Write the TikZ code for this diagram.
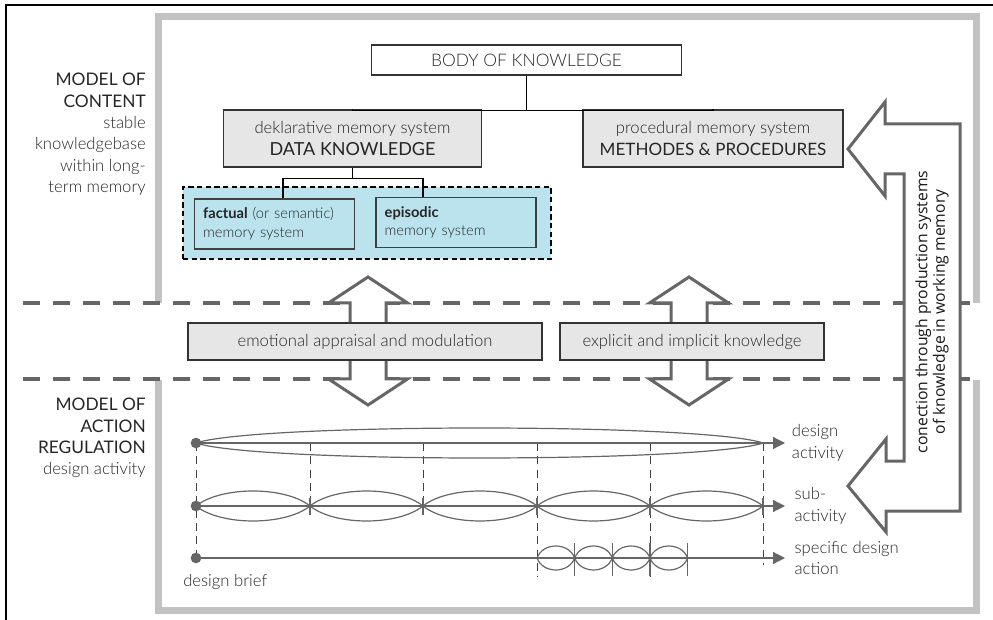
\documentclass[tikz,border=0pt]{standalone}
\usepackage{fontspec}
\setmainfont{Lato}
\newfontfamily\lightfont{Lato Light}
\newfontfamily\rotfont{Open Sans}
\usetikzlibrary{positioning, calc, arrows.meta}

\definecolor{boxgray}{HTML}{E6E6E6}
\definecolor{framegray}{HTML}{C2C2C2}
\definecolor{linegray}{HTML}{666666}
\definecolor{memblue}{HTML}{BAE3EE}
\definecolor{txtgray}{HTML}{262626}

\begin{document}
\begin{tikzpicture}[
    x=0.75pt, y=-0.75pt,
    % Define the style for the boxes
    block/.style={
        rectangle,
        draw=black!80,
        fill=boxgray,
        line width=0.8pt,
        align=center,
        inner sep=0pt,
        text=txtgray,
        font=\lightfont\fontsize{12.5}{16}\selectfont
    },
    memblock/.style={
        rectangle,
        draw=black!75,
        fill=memblue,
        line width=0.8pt,
        align=left,
        inner xsep=6.5pt,
        inner ysep=0pt,
        text width=107pt,
        minimum height=37.5pt,
        text=txtgray,
        font=\lightfont\fontsize{11}{14}\selectfont
    },
    group/.style={
        rectangle,
        draw=black,
        fill=memblue,
        line width=1.3pt,
        dash pattern=on 4pt off 2.5pt,
        minimum width=276pt,
        minimum height=54pt
    },
    % Define the style for the lines
    conn/.style={draw=black, line width=1.1pt},
    sep/.style={draw=linegray, line width=3pt, dash pattern=on 12.5pt off 10pt},
    frame/.style={draw=framegray, line width=5.25pt},
    bigarrow/.style={draw=linegray, line width=2.25pt, fill=white, line join=miter},
    tl/.style={draw=linegray, line width=0.9pt},
    guide/.style={draw=black!75, line width=0.6pt, dash pattern=on 6pt off 4pt},
    dot/.style={circle, fill=linegray, inner sep=0pt, minimum size=8pt},
    tip/.style={-{Triangle[length=9pt, width=9pt]}},
    % Define the style for the labels
    lbl/.style={align=left, inner sep=0pt, text=txtgray, font=\lightfont\fontsize{12.5}{16}\selectfont},
    side/.style={align=right, inner sep=0pt, text=txtgray, font=\lightfont\fontsize{12.5}{16}\selectfont}
]
    \useasboundingbox (0,0) rectangle (993,620);

    % Outer frame
    \draw[line width=1.5pt] (993,5) -- (6,5) -- (6,620);
    \draw[frame] (158.5,303) -- (158.5,16.5) -- (976.5,16.5) -- (976.5,303);
    \draw[frame] (158.5,380) -- (158.5,610.5) -- (976.5,610.5) -- (976.5,380);

    % Separators
    \draw[sep] (23,303) -- (973,303);
    \draw[sep] (23,379) -- (973,379);

    % Connection arrow on the right
    \draw[bigarrow] (848,149) -- (885,102) -- (885,124) -- (960,124) -- (960,511)
        -- (886,511) -- (886,532) -- (848,486) -- (886,439) -- (886,461)
        -- (904,461) -- (904,174) -- (885,174) -- (885,196) -- cycle;
    \node[rotate=90, align=center, text=black!90, font=\rotfont\fontsize{11.8}{13}\selectfont]
        (conection) at (932,312) {conection through production systems\\of knowledge in working memory};

    % Up and down arrows
    \foreach \cx in {368,689} {
        \draw[bigarrow] (\cx,277) -- (\cx+39.5,303) -- (\cx+18,303) -- (\cx+18,379)
            -- (\cx+39.5,379) -- (\cx,405) -- (\cx-39.5,379) -- (\cx-18,379)
            -- (\cx-18,303) -- (\cx-39.5,303) -- cycle;
    }

    % Model of content
    \node[side, anchor=north east] (content) at (146,73)
        {{\rmfamily\fontsize{13}{16}\selectfont MODEL OF}\\{\rmfamily\fontsize{13}{16}\selectfont CONTENT}\\stable\\knowledgebase\\within long-\\term memory};
    \node[block, fill=white, minimum width=233pt, minimum height=22.5pt, font=\lightfont\fontsize{13}{16}\selectfont] (bok) at (526.5,60) {BODY OF KNOWLEDGE};
    \node[block, minimum width=194pt, minimum height=42.75pt] (decl) at (352.5,138.5)
        {deklarative memory system\\{\rmfamily\fontsize{13.5}{16}\selectfont DATA KNOWLEDGE}};
    \node[block, minimum width=195pt, minimum height=42.75pt] (proc) at (713,138.5)
        {procedural memory system\\{\rmfamily\fontsize{12.8}{16}\selectfont METHODES \& PROCEDURES}};
    \node[group] (memgroup) at (367,223) {};
    \node[memblock] (fact) at (274.5,224) {{\rmfamily\bfseries factual} (or semantic)\\memory system};
    \node[memblock] (epis) at (456,222.5) {{\rmfamily\bfseries episodic}\\memory system};

    \draw[conn] (bok.south) -- ++(0,35) -| (decl.north);
    \draw[conn] (bok.south) -- ++(0,35) -| (proc.north);
    \draw[conn] (decl.south) -- ++(0,11) -| ($(fact.north)+(8.5,0)$);
    \draw[conn] (decl.south) -- ++(0,11) -| ($(epis.north)+(-33,0)$);

    % Middle boxes
    \node[block, minimum width=265.5pt, minimum height=27.75pt] (emo) at (365,341.5) {emotional appraisal and modulation};
    \node[block, minimum width=198pt, minimum height=27.75pt] (expl) at (692,341.5) {explicit and implicit knowledge};

    % Model of action regulation
    \node[side, anchor=north east] (action) at (146,398)
        {{\rmfamily\fontsize{13}{16}\selectfont MODEL OF}\\{\rmfamily\fontsize{13}{16}\selectfont ACTION}\\{\rmfamily\fontsize{13}{16}\selectfont REGULATION}\\design activity};

    % Guides
    \draw[guide] (196,443) -- (196,558);
    \foreach \x in {310,423} \draw[guide] (\x,443) -- (\x,515);
    \foreach \x in {537,650} \draw[guide] (\x,443) -- (\x,577);
    \draw[guide] (763,443) -- (763,565);

    % Time lines
    \foreach \y/\n in {443/1, 506/2, 558/3} {
        \node[dot] (start\n) at (196,\y) {};
        \coordinate (end\n) at (785,\y);
        \draw[tl, tip] (start\n.center) -- (end\n);
    }
    \draw[tl] (196,443) .. controls (256,423) and (703,423) .. (763,443)
        .. controls (703,463) and (256,463) .. cycle;
    \foreach \xa/\xb in {196/310, 310/423, 423/537, 537/650, 650/763} {
        \draw[tl] (\xa,506) .. controls (\xa+25,486) and (\xb-25,486) .. (\xb,506)
            .. controls (\xb-25,526) and (\xa+25,526) .. cycle;
        \draw[tl] (\xb,498) -- (\xb,515);
    }
    \foreach \xa/\xb in {537/574.7, 574.7/612.3, 612.3/650, 650/687.7} {
        \draw[tl] (\xa,558) .. controls (\xa+6,542) and (\xb-6,542) .. (\xb,558)
            .. controls (\xb-6,574) and (\xa+6,574) .. cycle;
        \draw[tl] (\xb,543) -- (\xb,576);
    }

    \node[lbl, right=5pt of end1] (lab1) {design\\activity};
    \node[lbl, right=7pt of end2] (lab2) {sub-\\activity};
    \node[lbl, right=7pt of end3] (lab3) {specific design\\action};
    \node[lbl, anchor=north west] (brief) at (183,574) {design brief};
\end{tikzpicture}
\end{document}
